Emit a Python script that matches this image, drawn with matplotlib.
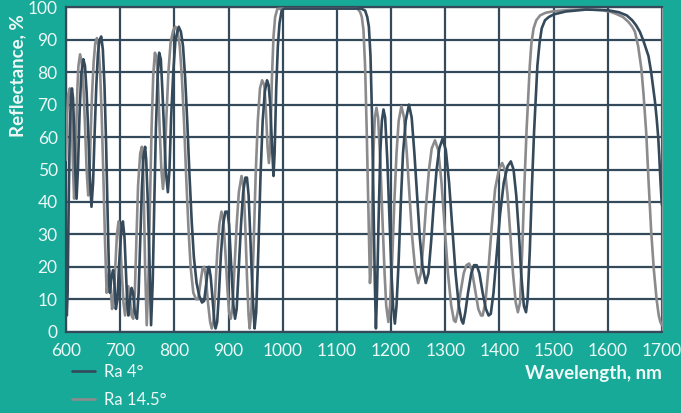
import matplotlib
matplotlib.use("Agg")
import matplotlib.pyplot as plt

# Ra 4 deg (dark)
wl_4 = [600, 601.5, 603, 605, 607, 609, 611, 613, 615, 617, 619.5, 622, 625, 628, 632, 635, 638, 641, 644, 647,
        650, 653, 656, 659, 662, 665, 668, 671, 674, 677, 680, 681, 684, 687, 689, 692, 695, 698, 702, 705,
        708, 711, 713, 715, 718, 721, 724, 727, 731, 734, 737, 740, 743, 746, 748, 751, 754, 757, 760, 763,
        766, 769, 772, 775, 778, 781, 784, 788, 791, 794, 798, 802, 808, 812, 816, 820, 824, 828, 832, 836,
        841, 846, 851, 855, 859, 862, 864, 867, 871, 874, 876, 879, 882, 886, 890, 894, 898, 901, 905, 909,
        912, 915, 919, 923, 927, 931, 934, 937, 940, 944, 948, 951, 955, 959, 963, 967, 971, 974, 977, 980,
        983, 985, 988, 991, 994, 998, 1003, 1050, 1100, 1145, 1152, 1156, 1159, 1162, 1165, 1168, 1170, 1172, 1174, 1177,
        1180, 1183, 1186, 1189, 1193, 1197, 1201, 1204, 1207, 1210, 1214, 1218, 1222, 1227, 1233, 1238, 1243, 1248, 1253, 1258,
        1264, 1269, 1274, 1279, 1284, 1289, 1295, 1301, 1307, 1313, 1319, 1325, 1330, 1333, 1337, 1342, 1348, 1353, 1358, 1363,
        1369, 1375, 1380, 1384, 1389, 1395, 1401, 1408, 1415, 1421, 1426, 1431, 1436, 1440, 1445, 1449, 1452, 1456, 1460, 1464,
        1467, 1470, 1474, 1478, 1484, 1491, 1500, 1522, 1560, 1600, 1620, 1635, 1645, 1652, 1659, 1665, 1670, 1675, 1680, 1684,
        1687, 1690, 1693, 1695, 1697, 1699, 1700]
r_4 = [10, 5, 12, 40, 62, 72, 75, 72, 62, 50, 41, 50, 67, 79, 84, 82, 74, 62, 48, 38.5,
       46, 62, 76, 86, 90, 91, 87, 76, 58, 35, 14, 12, 17, 19, 16, 7, 10, 21, 31, 34,
       29, 17, 9, 5, 10, 13.5, 12, 6, 4, 12, 28, 44, 54, 57, 53, 40, 22, 2, 15, 40,
       63, 78, 86, 84, 74, 62, 50, 43, 50, 66, 80, 90, 94, 92.5, 88, 78, 64, 48, 34, 23,
       15, 11, 9, 9.5, 15, 19.5, 20, 17, 9, 3, 1, 3, 11, 24, 33, 37, 37, 33, 20, 8,
       4, 7, 20, 33, 43, 47.5, 47.5, 42, 30, 13, 1, 6, 25, 48, 65, 74, 77.5, 76, 70, 58,
       48, 55, 75, 88, 95, 99, 99.6, 99.6, 99.6, 99.6, 99, 97, 94, 85, 65, 35, 15, 1, 12, 35,
       55, 65, 68.5, 66, 53, 35, 17, 7, 2.5, 8, 22, 40, 55, 65, 70, 66, 55, 42, 29, 20,
       15, 18, 28, 40, 50, 56.5, 59.5, 56, 46, 32, 18, 8, 3.5, 2.5, 6, 12, 18, 20.5, 20.5, 18,
       12, 7, 5, 5.5, 12, 24, 36, 46, 51, 52.5, 50, 42, 30, 18, 8, 6, 10, 25, 45, 62,
       72, 82, 89, 93.5, 96, 97, 97.8, 98.7, 99.3, 99.1, 98.5, 97.5, 96, 94.5, 92.5, 90, 87.5, 85, 80, 75,
       71, 66, 60, 54, 47, 41, 39]

# Ra 14.5 deg (grey)
wl_14 = [600, 602, 604, 607, 609, 611, 613, 615, 617, 619, 621, 623, 626, 629, 632, 635, 638, 641, 643, 645,
         648, 651, 654, 657, 660, 663, 666, 669, 672, 675, 678, 680, 682, 685, 688, 691, 694, 697, 700, 703,
         706, 709, 712, 715, 718, 721, 724, 727, 730, 733, 737, 740, 742, 744, 746, 749, 752, 755, 758, 761,
         764, 767, 770, 773, 776, 779, 782, 785, 789, 793, 798, 802, 806, 810, 814, 818, 822, 826, 830, 835,
         840, 844, 848, 852, 855, 858, 862, 866, 869, 872, 875, 879, 883, 887, 890, 894, 898, 901, 904, 907,
         911, 915, 919, 924, 928, 931, 934, 937, 939, 942, 946, 950, 954, 958, 962, 966, 969, 972, 974.5, 977,
         980, 983, 986, 990, 1000, 1050, 1100, 1138, 1143, 1146, 1149, 1152, 1155, 1158, 1161, 1163, 1165, 1168, 1170, 1173,
         1176, 1180, 1184, 1188, 1191, 1195, 1198, 1202, 1206, 1210, 1214, 1219, 1224, 1229, 1234, 1239, 1244, 1250, 1255, 1260,
         1265, 1270, 1275, 1281, 1287, 1293, 1299, 1305, 1311, 1316, 1319, 1323, 1328, 1334, 1339, 1344, 1349, 1355, 1361, 1366,
         1369, 1374, 1380, 1386, 1392, 1399, 1405, 1410, 1415, 1420, 1425, 1430, 1434, 1438, 1442, 1446, 1450, 1453, 1456, 1459,
         1463, 1468, 1475, 1485, 1500, 1530, 1560, 1590, 1605, 1615, 1628, 1638, 1645, 1650, 1656, 1662, 1666, 1671, 1675, 1680,
         1685, 1690, 1694, 1697, 1700]
r_14 = [53, 66, 73, 75, 72, 63, 50, 41, 48, 63, 75, 82, 85.5, 83, 76, 64, 50, 42, 47, 58,
        73, 83, 89, 90.5, 88, 80, 66, 48, 28, 12, 16, 19, 15, 7, 10, 20, 30, 34, 28, 18,
        9, 5, 10, 14, 10, 5, 4, 12, 28, 45, 55, 57, 52, 38, 20, 2, 15, 40, 63, 79,
        86, 85, 76, 62, 50, 44, 50, 65, 80, 89, 93, 94, 92.5, 88, 78, 64, 47, 32, 20, 12,
        10, 10, 15, 19.5, 20, 17, 9, 3, 1, 3, 11, 24, 33, 37, 35, 25, 13, 6, 4, 7,
        20, 33, 43, 48, 44, 32, 17, 5, 1, 6, 25, 48, 65, 75, 77.5, 76, 68, 57, 52, 57,
        78, 91, 97, 99.5, 99.6, 99.6, 99.6, 99.6, 98.5, 97, 93, 82, 62, 38, 15, 20, 40, 58, 66, 69,
        66, 53, 35, 18, 8, 3, 8, 22, 40, 55, 65, 69.5, 66, 55, 42, 29, 20, 15, 18, 28,
        40, 50, 56.5, 59, 56, 46, 32, 18, 8, 3.5, 3, 6, 12, 18, 20.5, 21, 19, 13, 7, 5,
        5, 9, 20, 33, 44, 50, 52, 50, 42, 30, 18, 9, 6, 9, 25, 45, 62, 72, 82, 89,
        93.5, 96, 97.5, 98.3, 98.8, 99.2, 99.4, 99.1, 98.6, 98, 97, 95.5, 94, 92.5, 88, 81, 73, 61, 47, 31,
        19, 10, 5, 3, 2]

x_ticks = list(range(600, 1701, 100))
y_ticks = list(range(0, 101, 10))

teal = "#17aa98"
slate = "#34495a"
grey = "#8b8b8d"
txt = "#eef8f6"

plt.rcParams['font.family'] = ['Lato', 'DejaVu Sans']

fig = plt.figure(figsize=(6.81, 4.13), dpi=100, facecolor=teal)
ax = fig.add_axes([66 / 681, 1 - 331.7 / 413, (662 - 66) / 681, (331.7 - 7.3) / 413])
ax.set_facecolor("white")

ax.plot(wl_4, r_4, color=slate, lw=1.9, label="Ra 4°", zorder=4, solid_capstyle="round")
ax.plot(wl_14, r_14, color=grey, lw=1.9, label="Ra 14.5°", zorder=3, solid_capstyle="round")

ax.set_xlim(600, 1700)
ax.set_ylim(0, 100)
ax.set_xticks(x_ticks)
ax.set_yticks(y_ticks)
ax.grid(True, color=slate, lw=1.6, zorder=1)
ax.set_axisbelow(True)
ax.tick_params(length=0, colors=txt, labelsize=12.5)
ax.tick_params(axis="y", pad=6)
ax.tick_params(axis="x", pad=8)
for s in ["top", "bottom", "left"]:
    ax.spines[s].set_color(slate)
    ax.spines[s].set_linewidth(1.6)
ax.spines["right"].set_color("#8a9699")
ax.spines["right"].set_linewidth(1.0)

fig.text(18 / 681, 1 - 76 / 413, "Reflectance, %", rotation=90, color=txt,
         fontsize=13.5, fontweight="bold", ha="center", va="center")
fig.text(662 / 681, 1 - 373 / 413, "Wavelength, nm", color=txt,
         fontsize=13.5, fontweight="bold", ha="right", va="center")

leg = fig.legend(loc="upper left", bbox_to_anchor=(72 / 681, 1 - 364 / 413), frameon=False,
                 fontsize=12, handlelength=1.4, labelspacing=0.7, handletextpad=0.55,
                 borderpad=0, borderaxespad=0)
for t in leg.get_texts():
    t.set_color(txt)

fig.savefig("out.png", dpi=100, facecolor=teal)
